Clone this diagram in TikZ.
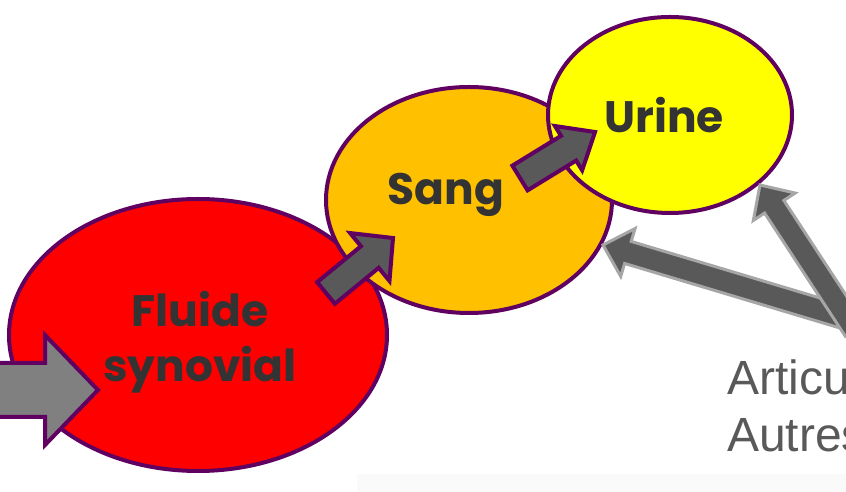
\documentclass[tikz,border=0pt]{standalone}
\usepackage{fontspec}
\setmainfont{Liberation Sans}
\newfontfamily\gothic{Poppins}
\usetikzlibrary{shapes.geometric,calc}
\definecolor{purp}{RGB}{96,0,96}
\definecolor{redf}{RGB}{255,0,0}
\definecolor{orangef}{RGB}{255,192,0}
\definecolor{yellowf}{RGB}{255,255,0}
\definecolor{midgray}{RGB}{128,128,128}
\definecolor{darkgray}{RGB}{89,89,89}
\definecolor{lightgray}{RGB}{166,166,166}
\definecolor{textdark}{RGB}{51,51,51}
\definecolor{faint}{RGB}{250,250,250}
\newcommand\blockarrow[6]{%
  \coordinate (#3-base) at ($(#3)!#6!(#2)$);
  \draw[#1] ($(#2)!#4!90:(#3)$) -- ($(#3-base)!#4!-90:(#2)$) -- ($(#3-base)!#5!-90:(#2)$) -- (#3)
    -- ($(#3-base)!#5!90:(#2)$) -- ($(#3-base)!#4!90:(#2)$) -- ($(#2)!#4!-90:(#3)$) -- cycle;
}
\tikzset{
  blob/.style={ellipse, draw=purp, line width=4pt, inner sep=0pt},
  lbl/.style={font=\gothic\bfseries\fontsize{44}{55}\selectfont, text=textdark, inner sep=0pt, anchor=base},
  side/.style={font=\fontsize{48}{57}\selectfont, text=darkgray, inner sep=0pt, anchor=base west},
  purparrow/.style={fill=darkgray, draw=purp, line width=4pt, line join=miter},
  bigarrow/.style={fill=midgray, draw=purp, line width=4pt, line join=miter},
  grayarrow/.style={fill=darkgray, draw=lightgray, line width=3pt, line join=miter},
}
\begin{document}
\begin{tikzpicture}[x=1pt,y=1pt]
\useasboundingbox (0,0) rectangle (846,492);
\fill[faint] (357,0) rectangle (846,18);
% ellipses
\node[blob, fill=redf, minimum width=378pt, minimum height=272pt] (fluide) at (198,157) {};
\node[blob, fill=orangef, minimum width=286pt, minimum height=226pt] (sang) at (469,292) {};
\node[blob, fill=yellowf, minimum width=244pt, minimum height=196pt] (urine) at (670,377) {};
% labels
\node[lbl] (t1) at (200,165) {Fluide};
\node[lbl] (t2) at (200,110) {synovial};
\node[lbl] (t3) at (446,287) {Sang};
\node[lbl] (t4) at (664,359) {Urine};
\node[side] (s1) at (727,97) {Articu};
\node[side] (s2) at (727,40) {Autres};
% arrow coordinates
\coordinate (a1tail) at (-10,102);
\coordinate (a1tip) at (98,102);
\coordinate (a2tail) at (326,199);
\coordinate (a2tip) at (393,254);
\coordinate (a3tail) at (520,314);
\coordinate (a3tip) at (595,360);
\coordinate (a4tail) at (860,170);
\coordinate (a4tip) at (603,247);
\coordinate (a5tail) at (855,162);
\coordinate (a5tip) at (760,307);
\blockarrow{bigarrow}{a1tail}{a1tip}{27pt}{55pt}{53pt}
\blockarrow{purparrow}{a2tail}{a2tip}{14pt}{31pt}{30pt}
\blockarrow{purparrow}{a3tail}{a3tip}{14.5pt}{26pt}{31pt}
\blockarrow{grayarrow}{a4tail}{a4tip}{11.5pt}{25pt}{26pt}
\blockarrow{grayarrow}{a5tail}{a5tip}{11.5pt}{25pt}{26pt}
\end{tikzpicture}
\end{document}
